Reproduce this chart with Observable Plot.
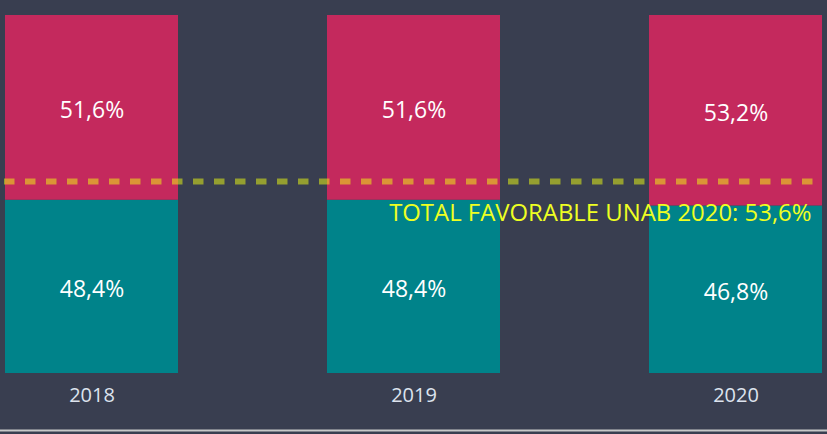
<!DOCTYPE html>
<html>
<head>
<meta charset="utf-8">
<script src="https://cdn.jsdelivr.net/npm/d3@7"></script>
<script src="https://cdn.jsdelivr.net/npm/@observablehq/plot@0.6"></script>
<style>
  html, body { margin: 0; padding: 0; background: #393e50; }
  #chart svg { display: block; }
</style>
</head>
<body>
<div id="chart"></div>
<script>
const years = ["2018", "2019", "2020"];
const bottomValues = [48.4, 48.4, 46.8];
const topValues = [51.6, 51.6, 53.2];
const seriesNames = ["Inferior", "Superior"];
const totalValue = 53.6;
const totalLabel = "TOTAL FAVORABLE UNAB 2020: 53,6%";

const rows = [];
years.forEach((yr, i) => {
  rows.push({year: yr, series: seriesNames[0], value: bottomValues[i]});
  rows.push({year: yr, series: seriesNames[1], value: topValues[i]});
});
const fmt = v => v.toFixed(1).replace(".", ",") + "%";

const font = "'Open Sans', 'Segoe UI', 'Noto Sans', sans-serif";

const plot = Plot.plot({
  width: 827,
  height: 434,
  marginTop: 15,
  marginBottom: 61,
  marginLeft: 4,
  marginRight: 4,
  style: {background: "#393e50", fontFamily: font, overflow: "visible"},
  x: {domain: years, padding: 0.464, paddingOuter: 0, label: null},
  y: {domain: [0, 100], axis: null},
  color: {domain: seriesNames, range: ["#00838a", "#c4295d"]},
  marks: [
    Plot.barY(rows, Plot.stackY({x: "year", y: "value", fill: "series", z: "series", order: seriesNames})),
    Plot.text(rows, Plot.stackY({x: "year", y: "value", z: "series", text: d => fmt(d.value), order: seriesNames, fill: "#ffffff", fontSize: 23, dy: 3})),
    Plot.ruleY([totalValue], {stroke: "#f2ff10", strokeOpacity: 0.5, strokeWidth: 6, strokeDasharray: "10.5,10.5"}),
    Plot.text([totalLabel], {frameAnchor: "right", y: [totalValue], text: d => d, fill: "#eeff22", fontSize: 23.9, textAnchor: "end", dx: -12, dy: 32}),
    Plot.axisX({tickSize: 0, tickPadding: 14, fontSize: 20, color: "#dde3ee", label: null}),
    Plot.ruleY([0], {stroke: "#c8c8c8", strokeWidth: 2, dy: 57, insetLeft: -4, insetRight: -4})
  ]
});
document.getElementById("chart").appendChild(plot);
</script>
</body>
</html>
